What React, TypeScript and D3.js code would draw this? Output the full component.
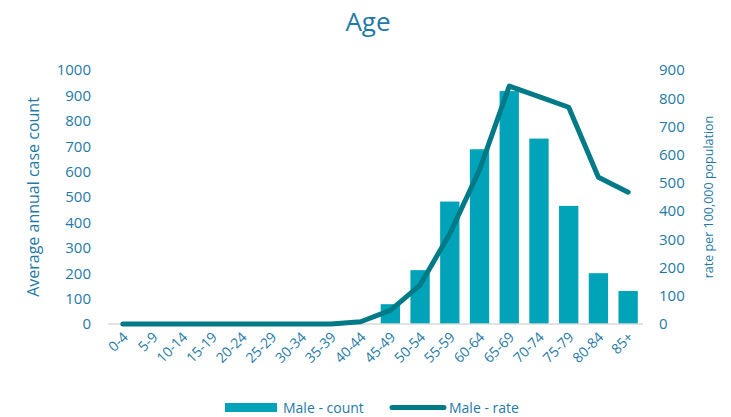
import * as d3 from "d3";
import * as React from "react";

const ageGroups = ["0-4", "5-9", "10-14", "15-19", "20-24", "25-29", "30-34", "35-39", "40-44", "45-49", "50-54", "55-59", "60-64", "65-69", "70-74", "75-79", "80-84", "85+"];
const maleCount = [0, 0, 0, 0, 0, 0, 0, 0, 0, 78, 212, 482, 688, 917, 730, 465, 200, 130];
const maleRate = [0, 0, 0, 0, 0, 0, 0, 0, 8, 48, 138, 320, 546, 843, 806, 768, 520, 467];
const countTicks = [0, 100, 200, 300, 400, 500, 600, 700, 800, 900, 1000];
const rateTicks = [0, 100, 200, 300, 400, 500, 600, 700, 800, 900];

const W = 731;
const H = 417;
const font = "'Open Sans', sans-serif";
const textColor = "#1f7aa6";
const barColor = "#00a3b8";
const lineColor = "#007a87";

export default function App() {
  const ref = React.useRef<SVGSVGElement>(null);

  React.useEffect(() => {
    const svg = d3.select(ref.current);
    svg.selectAll("*").remove();

    const left = 108, right = 643, top = 70, bottom = 324;

    const x = d3.scaleBand<string>().domain(ageGroups).range([left, right]).paddingInner(0.35).paddingOuter(0.175);
    const yCount = d3.scaleLinear().domain([0, 1000]).range([bottom, top]);
    const yRate = d3.scaleLinear().domain([0, 900]).range([bottom, top]);

    // title
    svg.append("text")
      .attr("x", 368).attr("y", 31)
      .attr("text-anchor", "middle")
      .attr("font-family", font).attr("font-size", 26)
      .attr("fill", textColor)
      .text("Age");

    // bars
    svg.append("g").selectAll("rect")
      .data(ageGroups)
      .enter().append("rect")
      .attr("x", (d) => x(d)!)
      .attr("width", x.bandwidth())
      .attr("y", (d, i) => yCount(maleCount[i]))
      .attr("height", (d, i) => bottom - yCount(maleCount[i]))
      .attr("fill", barColor);

    // baseline
    svg.append("line")
      .attr("x1", left).attr("x2", right)
      .attr("y1", bottom).attr("y2", bottom)
      .attr("stroke", "#d9d9d9").attr("stroke-width", 1.5);

    // left axis
    const la = svg.append("g")
      .attr("transform", `translate(${left - 17},0)`)
      .call(d3.axisLeft(yCount).tickValues(countTicks).tickFormat(d3.format("d")).tickSize(0).tickPadding(0));
    la.select(".domain").remove();
    la.selectAll("text").attr("font-family", font).attr("font-size", 15).attr("fill", textColor);

    // right axis
    const ra = svg.append("g")
      .attr("transform", `translate(${right + 16},0)`)
      .call(d3.axisRight(yRate).tickValues(rateTicks).tickFormat(d3.format("d")).tickSize(0).tickPadding(0));
    ra.select(".domain").remove();
    ra.selectAll("text").attr("font-family", font).attr("font-size", 15).attr("fill", textColor);

    // axis titles
    svg.append("text")
      .attr("transform", `translate(39,${(top + bottom) / 2}) rotate(-90)`)
      .attr("text-anchor", "middle")
      .attr("font-family", font).attr("font-size", 16)
      .attr("fill", textColor)
      .text("Average annual case count");

    svg.append("text")
      .attr("transform", `translate(713,${(top + bottom) / 2}) rotate(-90)`)
      .attr("text-anchor", "middle")
      .attr("font-family", font).attr("font-size", 12.5)
      .attr("fill", textColor)
      .text("rate per 100,000 population");

    // x labels
    svg.append("g").selectAll("text")
      .data(ageGroups)
      .enter().append("text")
      .attr("transform", (d) => `translate(${x(d)! + x.bandwidth() / 2 + 6},${bottom + 14}) rotate(-45)`)
      .attr("text-anchor", "end")
      .attr("font-family", font).attr("font-size", 14)
      .attr("fill", textColor)
      .text((d) => d);

    // line
    const line = d3.line<number>()
      .x((d, i) => x(ageGroups[i])! + x.bandwidth() / 2)
      .y((d) => yRate(d));
    svg.append("path")
      .attr("d", line(maleRate))
      .attr("fill", "none")
      .attr("stroke", lineColor)
      .attr("stroke-width", 5)
      .attr("stroke-linecap", "round")
      .attr("stroke-linejoin", "round");

    // legend
    const lg = svg.append("g");
    lg.append("rect").attr("x", 225).attr("y", 403).attr("width", 52).attr("height", 9).attr("fill", barColor);
    lg.append("text").attr("x", 283).attr("y", 413)
      .attr("font-family", font).attr("font-size", 14).attr("fill", textColor).text("Male - count");
    lg.append("line").attr("x1", 392).attr("x2", 444).attr("y1", 407.5).attr("y2", 407.5)
      .attr("stroke", lineColor).attr("stroke-width", 5).attr("stroke-linecap", "round");
    lg.append("text").attr("x", 449).attr("y", 413)
      .attr("font-family", font).attr("font-size", 14).attr("fill", textColor).text("Male - rate");
  }, []);

  return (
    <svg ref={ref} width={W} height={H} style={{ position: "absolute", left: 0, top: 0, background: "#fff" }} />
  );
}
